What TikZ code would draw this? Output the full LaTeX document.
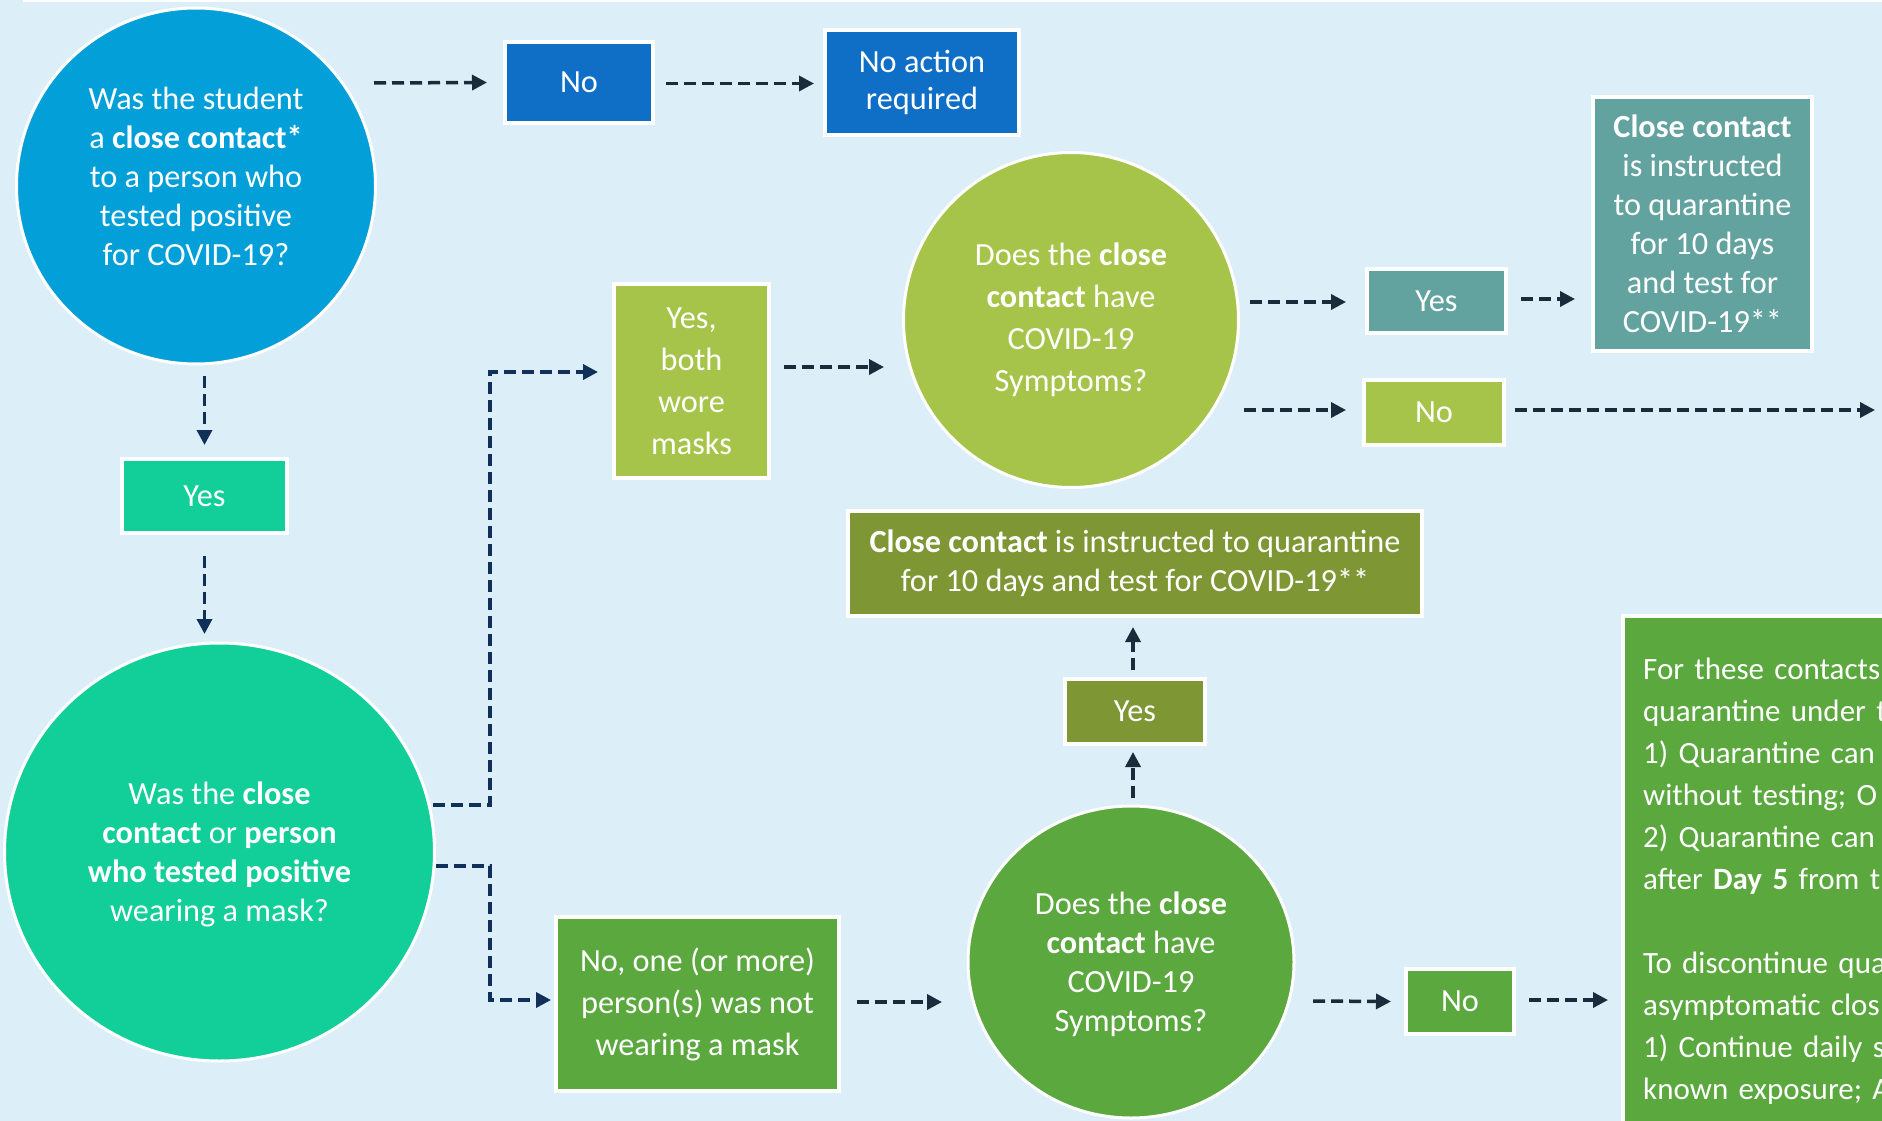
\documentclass[tikz,border=0pt]{standalone}
\usepackage{fontspec}
\setmainfont{Carlito}
\usetikzlibrary{shapes.geometric,arrows.meta,calc}
\definecolor{bg}{HTML}{DCEEF7}
\definecolor{cblue}{HTML}{039FD9}
\definecolor{bblue}{HTML}{0F6FC6}
\definecolor{cmint}{HTML}{12CE99}
\definecolor{clime}{HTML}{A7C44A}
\definecolor{cteal}{HTML}{63A39F}
\definecolor{cgreen}{HTML}{5AA83E}
\definecolor{colive}{HTML}{7F9634}
\definecolor{arrdark}{HTML}{1A2B3C}
\definecolor{arrnavy}{HTML}{10305A}
\begin{document}
\begin{tikzpicture}[x=1pt,y=-1pt,
  every node/.style={text=white, align=center, inner sep=0pt},
  fs/.style={font=\fontsize{32.3}{#1}\selectfont},
  fs/.default=39,
  box/.style={rectangle, draw=white, line width=4pt},
  circ/.style={ellipse, draw=white, line width=3pt},
  arr/.style={draw=arrdark, line width=3.5pt, dash pattern=on 12pt off 6pt,
    -{Triangle[length=15pt,width=15pt]}},
  arrn/.style={arr, draw=arrnavy},
]
\useasboundingbox (0,0) rectangle (1882,1121);
\clip (0,0) rectangle (1882,1121);
\fill[bg] (0,0) rectangle (1882,1121);
\fill[white] (23,0) rectangle (1882,2.5);

% circles
\node[circ, fill=cblue, fs, text depth=20pt, minimum width=359pt, minimum height=356pt] (c1) at (196,186)
  {Was the student\\ a \textbf{close contact*}\\ to a person who\\ tested positive\\ for COVID-19?};
\node[circ, fill=cmint, fs, text depth=0pt, minimum width=430pt, minimum height=418pt] (c2) at (219.5,852)
  {Was the \textbf{close}\\ \textbf{contact} or \textbf{person}\\ \textbf{who tested positive}\\ wearing a mask?};
\node[circ, fill=clime, fs=42, minimum width=335pt, minimum height=335pt] (c3) at (1071,320)
  {Does the \textbf{close}\\ \textbf{contact} have\\ COVID-19\\ Symptoms?};
\node[circ, fill=cgreen, fs, text depth=0pt, minimum width=326pt, minimum height=312pt] (c4) at (1131,962)
  {Does the \textbf{close}\\ \textbf{contact} have\\ COVID-19\\ Symptoms?};

% boxes
\node[box, fill=bblue, fs, minimum width=148pt, minimum height=81pt] (no1) at (579,82.5) {No};
\node[box, fill=bblue, fs=37, minimum width=194pt, minimum height=105pt] (noact) at (922,82.5) {No action\\ required};
\node[box, fill=cmint, fs, minimum width=165pt, minimum height=74pt] (yes1) at (204.5,496) {Yes};
\node[box, fill=clime, fs=42, minimum width=155pt, minimum height=194pt] (yesboth) at (691.5,381) {Yes,\\ both\\ wore\\ masks};
\node[box, fill=cteal, fs, minimum width=139pt, minimum height=64pt] (yes2) at (1436.5,301) {Yes};
\node[box, fill=cteal, fs, minimum width=219pt, minimum height=254pt] (cc1) at (1702.5,224)
  {\textbf{Close contact}\\ is instructed\\ to quarantine\\ for 10 days\\ and test for\\ COVID-19**};
\node[box, fill=clime, fs, minimum width=140pt, minimum height=65pt] (no2) at (1434,412.5) {No};
\node[box, fill=cgreen, fs=42, minimum width=283pt, minimum height=174pt] (noone) at (697.5,1004)
  {No, one (or more)\\ person(s) was not\\ wearing a mask};
\node[box, fill=cgreen, fs, minimum width=108pt, minimum height=65pt] (no3) at (1460,1001.5) {No};
\node[box, fill=colive, fs, minimum width=140pt, minimum height=65pt] (yes3) at (1135,711.5) {Yes};
\node[box, fill=colive, fs=38.5, minimum width=574pt, minimum height=105pt] (cc2) at (1135,563.5)
  {\textbf{Close contact} is instructed to quarantine\\ for 10 days and test for COVID-19**};
\node[box, fill=cgreen, anchor=north west, minimum width=300pt, minimum height=540pt] (big) at (1621,614) {};
\node[font=\fontsize{31}{42}\selectfont, align=left, anchor=north west, text width=400pt] (bigtext) at (1643,658)
  {For these contacts\\ quarantine under t\\ 1) Quarantine can\\ without testing; O\\ 2) Quarantine can\\
   after \textbf{Day 5} from th\\[42pt] To discontinue qua\\ asymptomatic clos\\ 1) Continue daily s\\ known exposure; A};

% connectors
\draw[arr] ($(c1.east)+(-3,-103)$) -- ($(no1.west)+(-16,0)$);
\draw[arr] ($(no1.east)+(11,1)$) -- ($(noact.west)+(-9,1)$);
\draw[arrn] ($(yes1.north)+(0,-81)$) -- ($(yes1.north)+(0,-12)$);
\draw[arrn] ($(yes1.south)+(0,21)$) -- ($(c2.north)+(-15,-7.5)$);
\draw[arrn] ($(c2.east)+(-3,-47)$) -| ($(yesboth.west)+(-122,-9)$) -- ($(yesboth.west)+(-14,-9)$);
\draw[arr] ($(yesboth.east)+(13,-14)$) -- ($(c3.west)+(-18,47)$);
\draw[arr] ($(c3.east)+(10,-18)$) -- ($(yes2.west)+(-19,1)$);
\draw[arr] ($(yes2.east)+(13,-2)$) -- ($(cc1.west)+(-16,75)$);
\draw[arr] ($(c3.east)+(4,90)$) -- ($(no2.west)+(-16,-2.5)$);
\draw[arr] ($(no2.east)+(9,-2.5)$) -- ($(no2.east)+(369,-2.5)$);
\draw[arrn] ($(c2.east)+(0,14)$) -| ($(noone.west)+(-64,-4)$) -- ($(noone.west)+(-3,-4)$);
\draw[arr] ($(noone.east)+(16,-2)$) -- ($(c4.west)+(-24.5,40)$);
\draw[arr] ($(c4.east)+(17.5,39)$) -- ($(no3.west)+(-13,0)$);
\draw[arr] ($(no3.east)+(13,-1.5)$) -- ($(big.north west)+(-13,386)$);
\draw[arr] ($(c4.north)+(2,-6.5)$) -- ($(yes3.south)+(-2,6)$);
\draw[arr] ($(yes3.north)+(-2,-7)$) -- ($(cc2.south)+(-2,9)$);
\end{tikzpicture}
\end{document}
